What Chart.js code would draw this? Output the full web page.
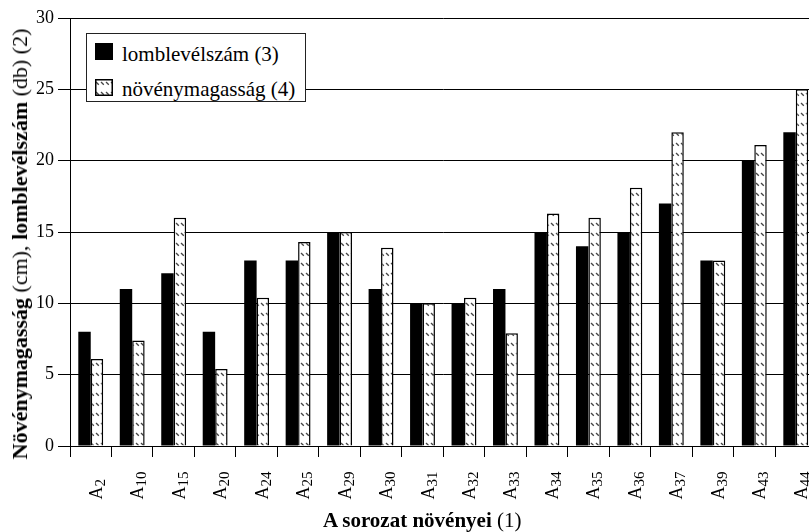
<!DOCTYPE html>
<html><head><meta charset="utf-8">
<script src="https://cdn.jsdelivr.net/npm/chart.js@4.4.1/dist/chart.umd.min.js"></script>
<style>
html,body{margin:0;padding:0;background:#fff;overflow:hidden;width:809px;height:532px;}
#wrap{position:relative;width:809px;height:532px;overflow:hidden;}
#c{position:absolute;left:0;top:0;}
.t{position:absolute;font-family:"Liberation Serif","Times New Roman",serif;color:#000;white-space:nowrap;line-height:1;}
b{font-weight:bold;}
#legendBox{position:absolute;left:86px;top:33px;width:218px;height:67px;border:1.5px solid #222;background:#fff;}
.sw{position:absolute;left:95px;width:18px;height:17px;}
</style></head>
<body><div id="wrap">
<canvas id="c" width="820" height="532" style="width:820px;height:532px"></canvas>
<div id="legendBox"></div>
<div class="sw" style="top:43px;background:#000"></div>
<canvas class="sw" id="sw2" width="18" height="17" style="top:79px"></canvas>
<div class="t" style="left:122px;top:44px;font-size:21px">lomblevélszám (3)</div>
<div class="t" style="left:122px;top:79px;font-size:21px">növénymagasság (4)</div>
<div class="t" style="left:323px;top:510px;font-size:21px"><b>A sorozat növényei</b> (1)</div>
<div class="t" style="left:19.5px;top:243.5px;font-size:22px;transform:translate(-50%,-50%) rotate(-90deg)"><b>Növénymagasság</b> (cm), <b>lomblevélszám</b> (db) (2)</div>
</div>
<script>
const categories = ['A2','A10','A15','A20','A24','A25','A29','A30','A31','A32','A33','A34','A35','A36','A37','A39','A43','A44'];
const leafCount = [8, 11, 12.1, 8, 13, 13, 15, 11, 10, 10, 11, 15, 14, 15, 17, 13, 20, 22];
const plantHeight = [6.1, 7.4, 16, 5.4, 10.4, 14.3, 15, 13.9, 10, 10.4, 7.9, 16.3, 16, 18.1, 22, 13, 21.1, 25];
const seriesNames = ['lomblevélszám (3)', 'növénymagasság (4)'];
const yTicks = [0, 5, 10, 15, 20, 25, 30];

function hatchCanvas(){
  const c = document.createElement('canvas'); c.width = 5; c.height = 10;
  const g = c.getContext('2d');
  g.fillStyle = '#fff'; g.fillRect(0,0,5,10);
  g.strokeStyle = '#444'; g.lineWidth = 1.3; g.lineCap='butt';
  g.beginPath(); g.moveTo(1,3); g.lineTo(3.8,5.8); g.stroke();
  return c;
}
const hc = hatchCanvas();
const ctx = document.getElementById('c').getContext('2d');
const hatch = ctx.createPattern(hc, 'repeat');

const s2 = document.getElementById('sw2').getContext('2d');
s2.fillStyle = s2.createPattern(hc,'repeat'); s2.fillRect(0,0,18,17);
s2.strokeStyle = '#000'; s2.lineWidth = 1.5; s2.strokeRect(0.75,0.75,16.5,15.5);

const SERIF = '"Liberation Serif","Times New Roman",serif';

// x tick labels: letter + subscript number, rotated, placed at the scale's tick pixels
const subscriptLabels = {
  id: 'subscriptLabels',
  afterDraw(chart){
    const sc = chart.scales.x;
    const c = chart.ctx;
    const startY = sc.top + 53.5;
    sc.ticks.forEach((t, i) => {
      const lab = String(chart.data.labels[i]);
      const m = lab.match(/^(\D+)(\d*)$/) || [lab, lab, ''];
      const x = sc.getPixelForTick(i);
      c.save();
      c.translate(x + 11, startY);
      c.rotate(-Math.PI / 2);
      c.fillStyle = '#000';
      c.textBaseline = 'alphabetic';
      c.textAlign = 'left';
      c.font = '18px ' + SERIF;
      c.fillText(m[1], 0, 0);
      const w = c.measureText(m[1]).width;
      c.font = '15px ' + SERIF;
      c.fillText(m[2], w, 3);
      c.restore();
    });
  }
};

new Chart(ctx, {
  type: 'bar',
  data: {
    labels: categories,
    datasets: [
      { label: seriesNames[0], data: leafCount, backgroundColor: '#000', borderWidth: 0 },
      { label: seriesNames[1], data: plantHeight, backgroundColor: hatch, borderColor: '#000', borderWidth: 1.5 }
    ]
  },
  options: {
    responsive: false,
    animation: false,
    devicePixelRatio: 1,
    categoryPercentage: 0.6,
    barPercentage: 1.0,
    layout: { padding: { top: 18, right: 3.5, left: 0, bottom: 0 } },
    plugins: { legend: { display: false }, tooltip: { enabled: false } },
    scales: {
      x: {
        offset: true,
        grid: { display: true, offset: true, drawOnChartArea: false, drawTicks: true, tickLength: 11, color: '#000', lineWidth: 1 },
        border: { display: true, color: '#000', width: 1 },
        ticks: { display: false, autoSkip: false },
        afterFit(s){ s.height = 86; }
      },
      y: {
        min: 0, max: 30,
        afterBuildTicks(s){ s.ticks = yTicks.map(v => ({ value: v })); },
        grid: { color: '#000', lineWidth: 1, drawTicks: true, tickLength: 12 },
        border: { display: true, color: '#000', width: 1 },
        ticks: { padding: 4, color: '#000', font: { family: SERIF, size: 18 } },
        afterFit(s){ s.width = 70; }
      }
    }
  },
  plugins: [subscriptLabels]
});
</script>
</body></html>
